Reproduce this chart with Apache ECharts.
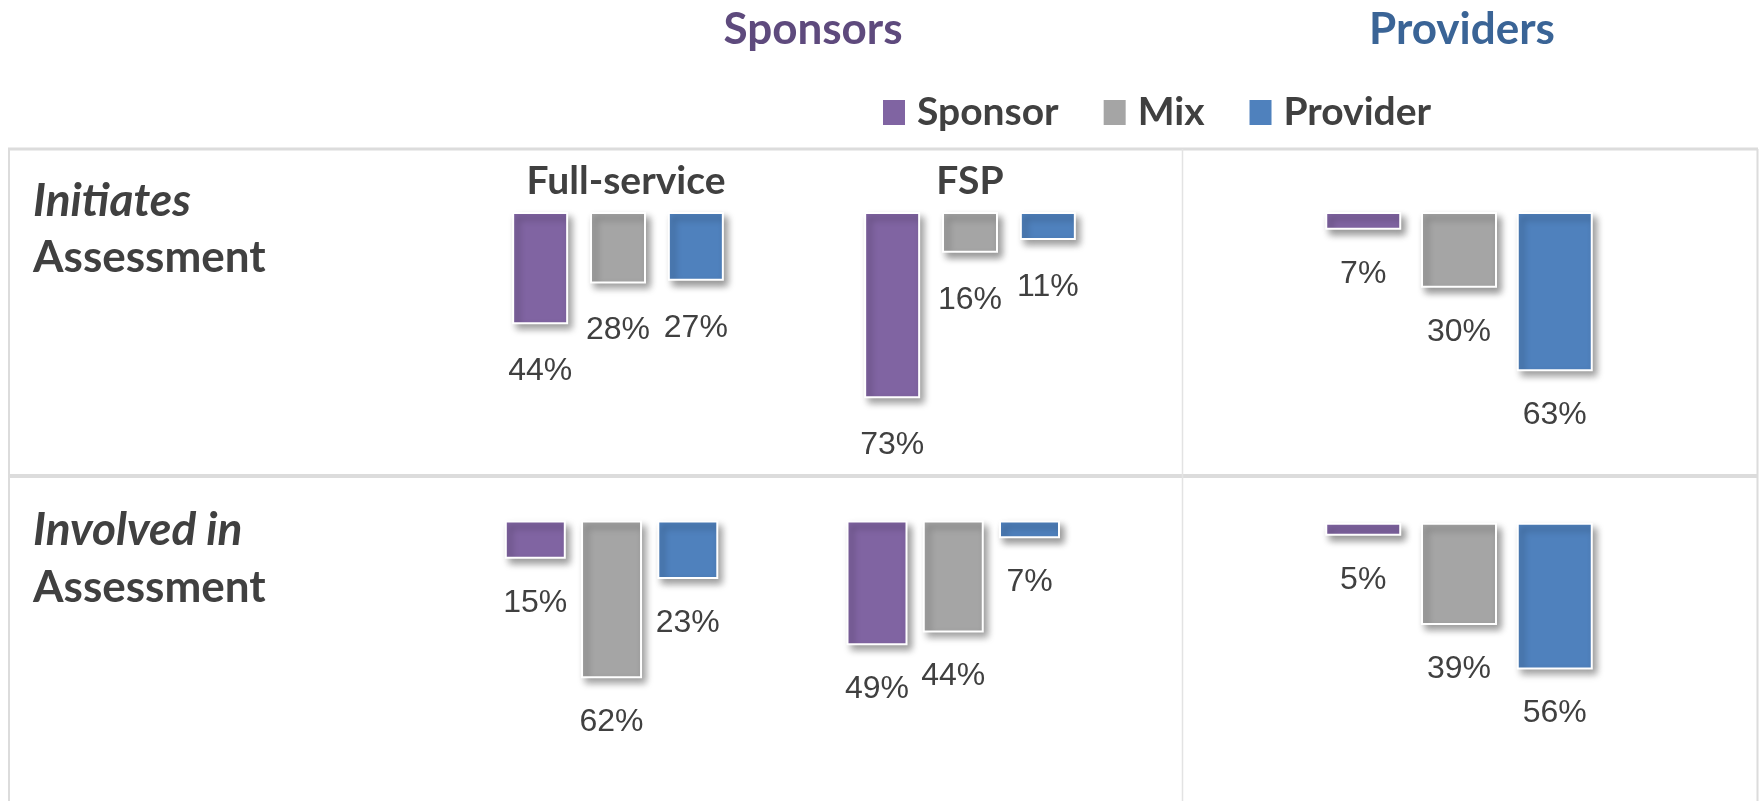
<!DOCTYPE html>
<html lang="en">
<head>
    <meta charset="UTF-8">
    <title>Sponsors vs Providers - assessment</title>
    <style>
        * {
            margin: 0;
            padding: 0;
            box-sizing: border-box;
        }

        html, body {
            background: #fff;
        }

        .chart {
            width: 1760px;
            height: 801px;
        }
    </style>
</head>
<body>
<div class="chart" id="chart"></div>

<script src="https://cdn.jsdelivr.net/npm/echarts@6/dist/echarts.min.js"></script>
<script>
    // legend / series names
    const seriesNames = ['Sponsor', 'Mix', 'Provider']
    // sponsor side has two groups of bars
    const sponsorGroups = ['Full-service', 'FSP']
    const providerGroups = ['']

    // row 1: Initiates Assessment  (values in %)
    const initSponsor = [44, 73]      // Full-service, FSP
    const initMix = [28, 16]
    const initProvider = [27, 11]
    const initProvidersSide = [7, 30, 63]   // Sponsor, Mix, Provider

    // row 2: Involved in Assessment
    const involvedSponsor = [15, 49]
    const involvedMix = [62, 44]
    const involvedProvider = [23, 7]
    const involvedProvidersSide = [5, 39, 56]

    const colors = ['#8064A2', '#A5A5A5', '#4F81BD']
    const textDark = '#404040'
    const headFont = 'Lato'

    const chartEle = document.querySelector('.chart')
    const myChart = echarts.init(chartEle)

    // one grid per table cell
    const grids = [
        { left: 442, top: 212, width: 704, height: 255 },     // initiates / sponsors
        { left: 1259, top: 212, width: 400, height: 252.7 },  // initiates / providers
        { left: 440.7, top: 520.5, width: 683.4, height: 254.5 }, // involved / sponsors
        { left: 1259, top: 522.7, width: 400, height: 262 }   // involved / providers
    ]

    const xAxes = grids.map((g, i) => ({
        type: 'category',
        gridIndex: i,
        data: i % 2 === 0 ? sponsorGroups : providerGroups,
        show: false
    }))
    const yAxes = grids.map((g, i) => ({
        type: 'value',
        gridIndex: i,
        inverse: true,
        min: 0,
        max: 100,
        show: false
    }))

    // bar size per cell
    const barWidths = [56, 76, 61, 76]
    const barGaps = ['39%', '26%', '25%', '26%']
    const labelDist = [31, 28, 28, 28]

    function makeBar(name, colorIdx, gridIdx, data) {
        return {
            type: 'bar',
            name: name,
            xAxisIndex: gridIdx,
            yAxisIndex: gridIdx,
            data: data,
            barWidth: barWidths[gridIdx],
            barGap: barGaps[gridIdx],
            itemStyle: {
                color: colors[colorIdx],
                borderColor: '#fff',
                borderWidth: 2,
                shadowColor: 'rgba(0,0,0,0.4)',
                shadowBlur: 7,
                shadowOffsetX: 4,
                shadowOffsetY: 5
            },
            label: {
                show: true,
                position: 'bottom',
                distance: labelDist[gridIdx],
                formatter: '{c}%',
                fontFamily: 'Liberation Sans',
                fontSize: 32,
                color: textDark
            },
            emphasis: { disabled: true },
            animation: false
        }
    }

    const series = [
        makeBar('Sponsor', 0, 0, initSponsor),
        makeBar('Mix', 1, 0, initMix),
        makeBar('Provider', 2, 0, initProvider),
        makeBar('Sponsor', 0, 1, [initProvidersSide[0]]),
        makeBar('Mix', 1, 1, [initProvidersSide[1]]),
        makeBar('Provider', 2, 1, [initProvidersSide[2]]),
        makeBar('Sponsor', 0, 2, involvedSponsor),
        makeBar('Mix', 1, 2, involvedMix),
        makeBar('Provider', 2, 2, involvedProvider),
        makeBar('Sponsor', 0, 3, [involvedProvidersSide[0]]),
        makeBar('Mix', 1, 3, [involvedProvidersSide[1]]),
        makeBar('Provider', 2, 3, [involvedProvidersSide[2]])
    ]

    function txt(text, x, y, size, color, opts) {
        opts = opts || {}
        return {
            type: 'text',
            silent: true,
            style: {
                text: text,
                x: x,
                y: y,
                fill: color,
                font: (opts.italic ? 'italic ' : '') + 'bold ' + size + 'px ' + headFont,
                textAlign: opts.align || 'center',
                align: opts.align || 'center',
                textVerticalAlign: 'middle',
                verticalAlign: 'middle'
            }
        }
    }

    function line(x1, y1, x2, y2, w, c) {
        return {
            type: 'line',
            silent: true,
            shape: { x1: x1, y1: y1, x2: x2, y2: y2 },
            style: { stroke: c, lineWidth: w }
        }
    }

    const lineColor = '#DCDCDC'

    option = {
        backgroundColor: '#fff',
        animation: false,
        legend: {
            data: seriesNames,
            left: 883,
            top: 93,
            padding: 0,
            icon: 'rect',
            itemWidth: 22,
            itemHeight: 25,
            itemGap: 45,
            itemStyle: { borderWidth: 0, shadowBlur: 0, shadowOffsetX: 0, shadowOffsetY: 0 },
            textStyle: {
                fontFamily: headFont,
                fontWeight: 'bold',
                fontSize: 39,
                color: textDark,
                padding: [0, 0, 0, 7]
            },
            selectedMode: false
        },
        grid: grids,
        xAxis: xAxes,
        yAxis: yAxes,
        series: series,
        graphic: [
            // table lines
            line(8, 149, 1758, 149, 3, lineColor),
            line(9, 149, 9, 801, 2, lineColor),
            line(1757.5, 149, 1757.5, 801, 2, lineColor),
            line(8, 476, 1758, 476, 4, lineColor),
            line(1182.5, 149, 1182.5, 801, 1.5, '#E3E3E3'),
            // column heads
            txt('Sponsors', 813, 30, 44, '#5E4A7D'),
            txt('Providers', 1462, 30, 44, '#3A6496'),
            // group heads
            txt(sponsorGroups[0], 626, 181, 39, textDark),
            txt(sponsorGroups[1], 970, 181, 39, textDark),
            // row heads
            txt('Initiates', 33, 201, 46, textDark, { align: 'left', italic: true }),
            txt('Assessment', 33, 258, 44, textDark, { align: 'left' }),
            txt('Involved in', 33, 530, 46, textDark, { align: 'left', italic: true }),
            txt('Assessment', 33, 588, 44, textDark, { align: 'left' })
        ]
    }

    myChart.setOption(option)
</script>
</body>
</html>
